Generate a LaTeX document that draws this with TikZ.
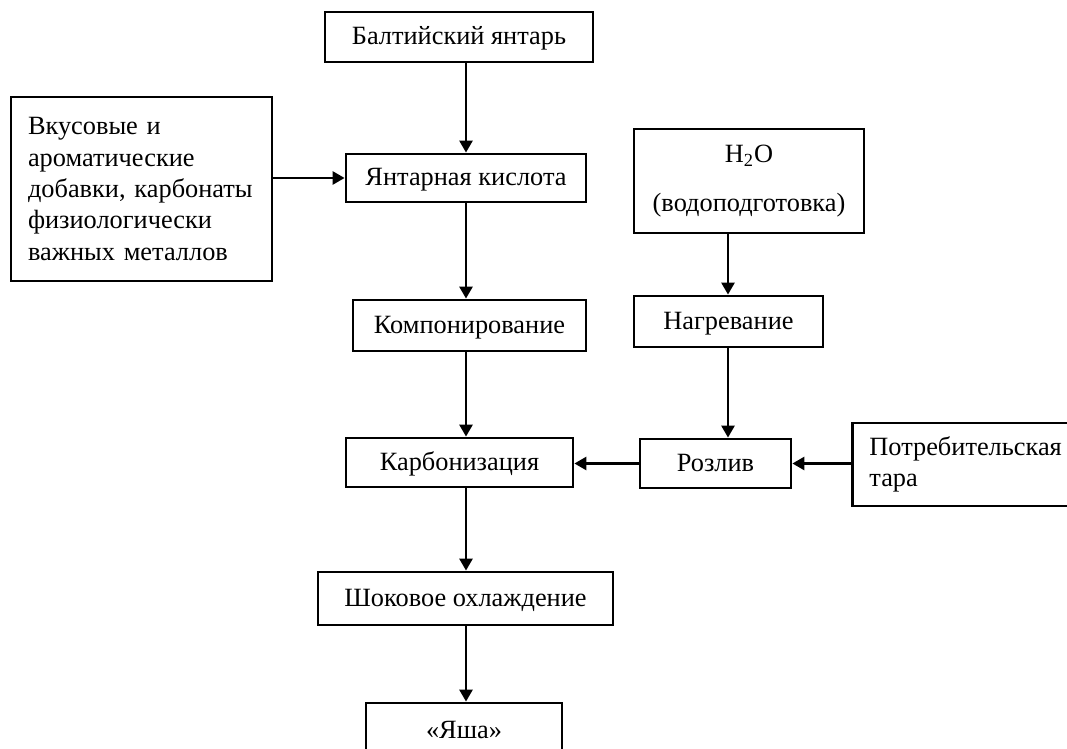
\documentclass[tikz,border=0pt]{standalone}
\usepackage{fontspec}
\setmainfont{Liberation Serif}
\usepackage{tikz}
\usetikzlibrary{arrows.meta}
\tikzset{
	box/.style 2 args={draw,line width=1.6pt,minimum width=#1,minimum height=#2,inner sep=0pt,font=\fontsize{15}{17.8}\selectfont},
	oneline/.style={text height=1.0em,text depth=0.14em},
	arr/.style={line width=1.5pt,-{Triangle[length=0.24cm,width=0.26cm]}}
}

\begin{document}
\begin{tikzpicture}[x=0.02cm,y=-0.02cm]
						\path[use as bounding box] (0,0) rectangle (1067,749);
						\clip (0,0) rectangle (1067,749);

						% main column
						\node [box={5.36cm}{1.0cm},oneline] (balt) at (459,37) {Балтийский янтарь};
						\node [box={4.8cm}{0.96cm},oneline] (yant) at (466,178) {Янтарная кислота};
						\node [box={4.66cm}{1.02cm},oneline] (komp) at (469.5,325.5) {Компонирование};
						\node [box={4.54cm}{0.98cm},oneline] (karb) at (459.5,462.5) {Карбонизация};
						\node [box={5.9cm}{1.06cm},oneline] (shok) at (465.5,598.5) {Шоковое охлаждение};
						\node [box={3.92cm}{1.1cm},oneline] (yasha) at (464,730.5) {«Яша»};

						% additives on the left
						\node [box={5.22cm}{3.68cm},text width=4.54cm,inner xsep=0.34cm,align=left] (vkus) at (141.5,189)
							{Вкусовые и\\ароматические\\добавки, карбонаты\\физиологически\\важных металлов};

						% water branch and packaging
						\node [box={4.6cm}{2.08cm},align=center] (water) at (749,181) {H\textsubscript{2}O\\[10pt](водоподготовка)};
						\node [box={3.78cm}{1.02cm},oneline] (nagr) at (728.5,321.5) {Нагревание};
						\node [box={3.02cm}{0.98cm},oneline] (rozl) at (715.5,463.5) {Розлив};
						\node [box={5.34cm}{1.66cm},text width=4.66cm,inner xsep=0.34cm,align=left,anchor=west] (tara) at (851,464.5)
							{Потребительская\\тара};

						\coordinate (col) at (466,0);
						\coordinate (wcol) at (728,0);

						\draw [arr] (balt.south -| col) -- (yant.north -| col);
						\draw [arr] (yant.south -| col) -- (komp.north -| col);
						\draw [arr] (komp.south -| col) -- (karb.north -| col);
						\draw [arr] (karb.south -| col) -- (shok.north -| col);
						\draw [arr] (shok.south -| col) -- (yasha.north -| col);
						\draw [arr] (vkus.east |- yant.west) -- (yant.west);
						\draw [arr] (water.south -| wcol) -- (nagr.north -| wcol);
						\draw [arr] (nagr.south -| wcol) -- (rozl.north -| wcol);
						\draw [arr] (rozl.west) -- (rozl.west -| karb.east);
						\draw [arr] (tara.west |- rozl.east) -- (rozl.east);
					\end{tikzpicture}
\end{document}
